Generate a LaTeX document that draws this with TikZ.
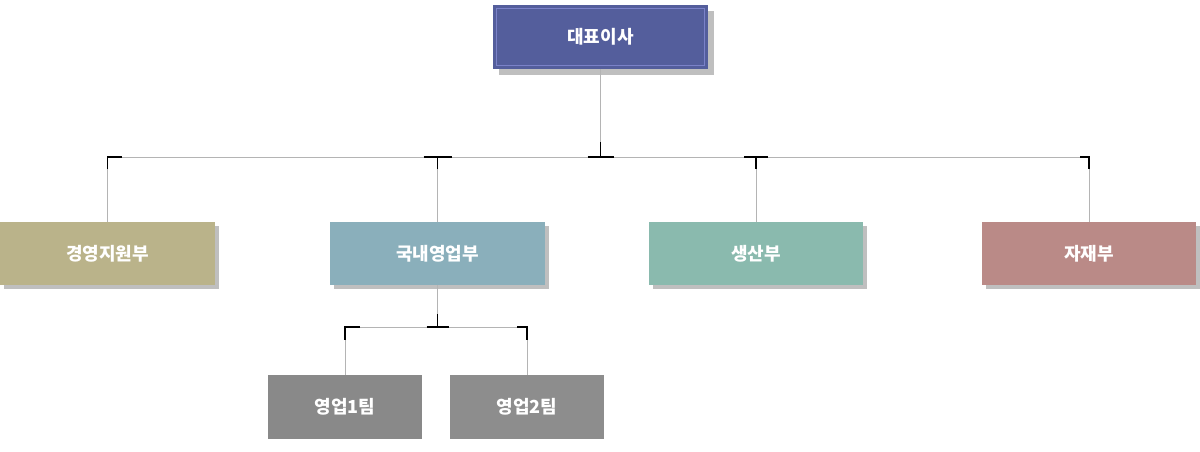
\documentclass[tikz,border=0pt]{standalone}
\usepackage{fontspec}
\newfontfamily\kr{Noto Sans CJK KR}
\usetikzlibrary{positioning, shadows}
\definecolor{ceoblue}{HTML}{545E9C}
\definecolor{ceoline}{HTML}{7B82C8}
\definecolor{supportkhaki}{HTML}{BAB38A}
\definecolor{salesblue}{HTML}{8AAFBB}
\definecolor{prodteal}{HTML}{8ABAAE}
\definecolor{matrose}{HTML}{BA8A87}
\definecolor{teamgray}{HTML}{898989}
\definecolor{teamgraylt}{HTML}{8D8D8D}
\definecolor{shadowgray}{HTML}{BFBFBF}
\definecolor{linegray}{HTML}{B4B4B4}

\begin{document}
\begin{tikzpicture}[x=1pt, y=-1pt,
    box/.style={text=white, font=\kr\bfseries\fontsize{18pt}{18pt}\selectfont,
                inner sep=0pt, outer sep=0pt, minimum height=63pt, minimum width=215pt},
    shade box/.style={box, drop shadow={shadow xshift=4pt, shadow yshift=-4pt,
                fill=shadowgray, opacity=1}},
    team/.style={box, minimum width=154pt, minimum height=64pt},
    link/.style={draw=linegray, line width=1pt},
    tick/.style={draw=black, line width=1.1pt}]
  \useasboundingbox (0,0) rectangle (1200,451);

  % top
  \node[box, minimum height=64pt, fill=ceoblue,
        drop shadow={shadow xshift=6pt, shadow yshift=-6pt, fill=shadowgray, opacity=1}]
        (ceo) at (600.5,37) {대표이사};
  \draw[draw=ceoline, line width=1pt] ([xshift=3.5pt,yshift=-3.5pt]ceo.north west)
        rectangle ([xshift=-3.5pt,yshift=3.5pt]ceo.south east);

  % departments
  \node[shade box, fill=supportkhaki] (support) at (107.5,253.5) {경영지원부};
  \node[shade box, fill=salesblue, right=115pt of support] (sales) {국내영업부};
  \node[shade box, fill=prodteal, minimum width=214pt, right=104pt of sales] (prod) {생산부};
  \node[shade box, fill=matrose, minimum width=214pt, right=119pt of prod] (mat) {자재부};

  % teams
  \node[team, fill=teamgray] (team1) at (345,407) {영업1팀};
  \node[team, fill=teamgraylt, right=28pt of team1] (team2) {영업2팀};

  % main branch
  \coordinate[below=88pt of ceo] (bus);
  \foreach \d/\n in {support/1, sales/2, prod/3, mat/4}
    \coordinate (j\n) at (\d.north |- bus);
  \draw[link] (ceo) -- (bus);
  \draw[link] (j1) -- (j4);
  \foreach \d/\n in {support/1, sales/2, prod/3, mat/4}
    \draw[link] (j\n) -- (\d);
  \draw[tick] ([xshift=14pt]j1) -- (j1) -- ([yshift=-12pt]j1);
  \draw[tick] ([xshift=-14pt]j2) -- ([xshift=14pt]j2) (j2) -- ([yshift=-12pt]j2);
  \draw[tick] ([xshift=-13pt]bus) -- ([xshift=13pt]bus) (bus) -- ([yshift=15pt]bus);
  \draw[tick] ([xshift=-12pt]j3) -- ([xshift=12pt]j3) (j3) -- ([yshift=-12pt]j3);
  \draw[tick] ([xshift=-9pt]j4) -- (j4) -- ([yshift=-12pt]j4);

  % sales branch
  \coordinate[below=42pt of sales] (subbus);
  \coordinate (k1) at (team1.north |- subbus);
  \coordinate (k2) at (team2.north |- subbus);
  \draw[link] (sales) -- (subbus);
  \draw[link] (k1) -- (k2);
  \draw[link] (k1) -- (team1);
  \draw[link] (k2) -- (team2);
  \draw[tick] ([xshift=15pt]k1) -- (k1) -- ([yshift=-13pt]k1);
  \draw[tick] ([xshift=-11pt]subbus) -- ([xshift=11pt]subbus) (subbus) -- ([yshift=13pt]subbus);
  \draw[tick] ([xshift=-10pt]k2) -- (k2) -- ([yshift=-13pt]k2);
\end{tikzpicture}
\end{document}
